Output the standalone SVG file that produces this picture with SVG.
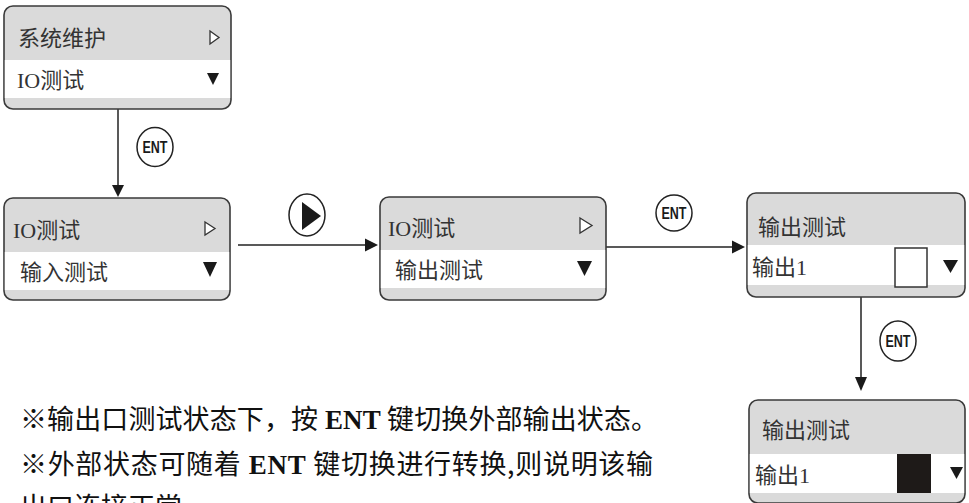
<svg xmlns="http://www.w3.org/2000/svg" width="969" height="503" viewBox="0 0 969 503">
<defs>
<style>
.bx{fill:#dadada;stroke:#3a3a3a;stroke-width:1.6}
.wb{fill:#ffffff}
.t{font-family:"Liberation Serif","Noto Sans CJK SC",serif;font-size:22px;fill:#333}
.tri{fill:#fff;stroke:#333;stroke-width:1.3}
.dn{fill:#1a1a1a}
.ln{stroke:#222;stroke-width:1.5;fill:none}
.ah{fill:#1a1a1a}
.ent{fill:#fff;stroke:#222;stroke-width:1.5}
.et{font-family:"Liberation Sans",Arial,sans-serif;font-weight:bold;font-size:16px;fill:#1a1a1a;text-anchor:middle}
.note{font-family:"Noto Sans CJK SC",sans-serif;font-size:27px;fill:#111}
.b{font-family:"Liberation Serif",serif;font-weight:bold}
</style>
</defs>
<rect width="969" height="503" fill="#fff"/>
<g id="connectors">
<line class="ln" x1="118" y1="109" x2="118" y2="186"/>
<polygon class="ah" points="112,185 124,185 118,197"/>
<line class="ln" x1="238" y1="245" x2="367" y2="245"/>
<polygon class="ah" points="365,238.5 365,251.5 378,245"/>
<line class="ln" x1="606" y1="247" x2="734" y2="247"/>
<polygon class="ah" points="732,240.5 732,253.5 745,247"/>
<line class="ln" x1="861" y1="297" x2="861" y2="379"/>
<polygon class="ah" points="855,377 867,377 861,391"/>
<g id="ent1"><ellipse class="ent" cx="155" cy="147" rx="18" ry="19.5"/><text class="et" x="155" y="153" textLength="25" lengthAdjust="spacingAndGlyphs">ENT</text></g>
<g id="play"><ellipse class="ent" cx="307" cy="215" rx="18" ry="21"/><polygon class="ah" points="302,202 321,216 302,230"/></g>
<g id="ent2"><ellipse class="ent" cx="674" cy="213" rx="18" ry="18"/><text class="et" x="674" y="219" textLength="25" lengthAdjust="spacingAndGlyphs">ENT</text></g>
<g id="ent3"><ellipse class="ent" cx="898" cy="341" rx="18" ry="20"/><text class="et" x="898" y="347" textLength="25" lengthAdjust="spacingAndGlyphs">ENT</text></g>
</g>
<g id="box1">
<rect class="bx" x="4" y="6" width="227" height="103" rx="9"/>
<rect class="wb" x="4.8" y="60" width="225.4" height="38"/>
<text class="t" x="18" y="46">系统维护</text>
<polygon class="tri" points="210,31 219,37.5 210,44"/>
<text class="t" x="17" y="88">IO测试</text>
<polygon class="dn" points="207,73 219,73 213,85"/>
</g>
<g id="box2">
<rect class="bx" x="4" y="198" width="226" height="102" rx="9"/>
<rect class="wb" x="4.8" y="252" width="224.4" height="38"/>
<text class="t" x="13" y="238">IO测试</text>
<polygon class="tri" points="205,222 215,228.5 205,235"/>
<text class="t" x="20" y="280">输入测试</text>
<polygon class="dn" points="203,262 217,262 210,277"/>
</g>
<g id="box3">
<rect class="bx" x="380" y="197" width="226" height="103" rx="9"/>
<rect class="wb" x="380.8" y="250" width="224.4" height="38"/>
<text class="t" x="388" y="236">IO测试</text>
<polygon class="tri" points="580,218 592,225.5 580,233"/>
<text class="t" x="395" y="278">输出测试</text>
<polygon class="dn" points="577,261 592,261 584.5,276"/>
</g>
<g id="box4">
<rect class="bx" x="747" y="193" width="218" height="104" rx="9"/>
<rect class="wb" x="747.8" y="245" width="216.4" height="40"/>
<text class="t" x="758" y="235">输出测试</text>
<text class="t" x="752" y="275">输出1</text>
<rect x="895" y="248" width="32" height="39" fill="#fff" stroke="#333" stroke-width="1.5"/>
<polygon class="dn" points="943,260 958,260 950.5,273"/>
</g>
<g id="box5">
<rect class="bx" x="749" y="400" width="216" height="103" rx="9"/>
<rect class="wb" x="749.8" y="454" width="214.4" height="39"/>
<text class="t" x="762" y="438">输出测试</text>
<text class="t" x="755" y="483">输出1</text>
<rect x="897" y="454" width="34" height="39" fill="#1e1a18"/>
<polygon class="dn" points="950,467 963,467 956.5,479"/>
</g>
<g id="notes">
<text class="note" x="20" y="429" textLength="638" lengthAdjust="spacing">※输出口测试状态下，按<tspan class="b"> ENT </tspan>键切换外部输出状态。</text>
<text class="note" x="20" y="474" textLength="633" lengthAdjust="spacing">※外部状态可随着<tspan class="b"> ENT </tspan>键切换进行转换,则说明该输</text>
<text class="note" x="20" y="517">出口连接正常</text>
</g>
</svg>
